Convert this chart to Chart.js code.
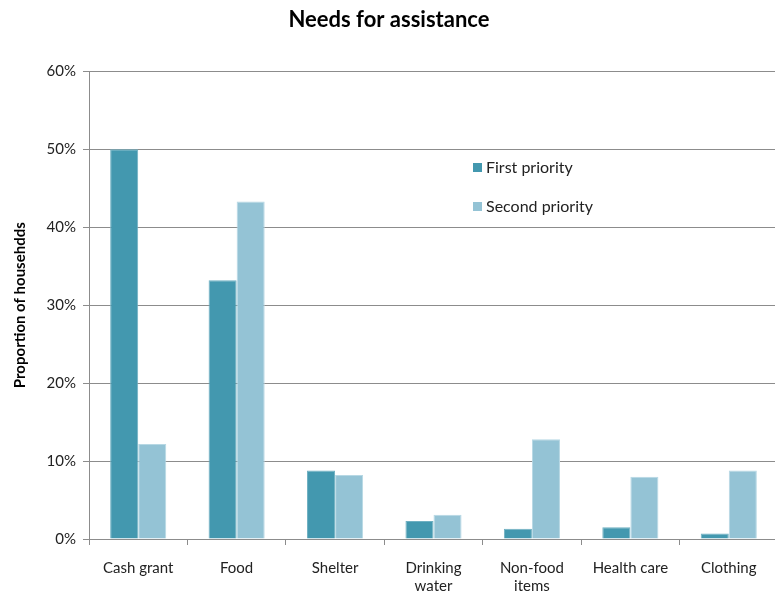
<!DOCTYPE html>
<html>
<head>
<meta charset="utf-8">
<script src="https://cdn.jsdelivr.net/npm/chart.js@4/dist/chart.umd.min.js"></script>
<style>
  html, body { margin: 0; padding: 0; background: #fff; overflow: hidden; }
  #wrap { width: 785px; height: 594px; }
</style>
</head>
<body>
<div id="wrap"><canvas id="needsChart" width="785" height="594"></canvas></div>
<script>
const categories = ["Cash grant", "Food", "Shelter", ["Drinking", "water"], ["Non-food", "items"], "Health care", "Clothing"];
const firstPriority = [50.0, 33.2, 8.8, 2.3, 1.3, 1.5, 0.7];
const secondPriority = [12.2, 43.3, 8.2, 3.1, 12.8, 8.0, 8.8];
const yTicks = [0, 10, 20, 30, 40, 50, 60];

const FONT = "Lato, 'Open Sans', sans-serif";
const gridGray = "#8c8c8c";

// legend drawn inside the plot area, like the original
const innerLegend = {
  id: "innerLegend",
  afterDraw(chart) {
    const c = chart.ctx;
    c.save();
    c.font = "16px " + FONT;
    c.textBaseline = "middle";
    chart.data.datasets.forEach(function (ds, i) {
      const y = 168 + i * 39;
      c.fillStyle = ds.backgroundColor;
      c.fillRect(473, y - 5, 9, 9);
      c.fillStyle = "#222";
      c.fillText(ds.label, 486, y);
    });
    c.restore();
  },
};

const ctx = document.getElementById("needsChart").getContext("2d");
new Chart(ctx, {
  type: "bar",
  data: {
    labels: categories,
    datasets: [
      {
        label: "First priority",
        data: firstPriority,
        backgroundColor: "#4398af",
        borderColor: "#6fb0c2",
        borderWidth: 1,
      },
      {
        label: "Second priority",
        data: secondPriority,
        backgroundColor: "#94c3d5",
        borderColor: "#b7d8e4",
        borderWidth: 1,
      },
    ],
  },
  options: {
    responsive: false,
    animation: false,
    layout: { padding: { left: 0, right: 7, top: 0, bottom: 0 } },
    datasets: {
      bar: { categoryPercentage: 0.57, barPercentage: 1.0 },
    },
    plugins: {
      legend: { display: false },
      tooltip: { enabled: false },
      title: {
        display: true,
        text: "Needs for assistance",
        color: "#000",
        font: { family: FONT, size: 22, weight: "bold" },
        padding: { top: 7, bottom: 38 },
      },
    },
    scales: {
      x: {
        grid: {
          display: true,
          drawOnChartArea: false,
          drawTicks: true,
          tickLength: 6,
          color: gridGray,
          offset: true,
        },
        border: { display: true, color: gridGray, width: 1 },
        ticks: {
          color: "#222",
          font: { family: FONT, size: 15, lineHeight: 1.2 },
          padding: 14,
          maxRotation: 0,
          autoSkip: false,
        },
        afterFit(scale) { scale.height = 55; },
      },
      y: {
        min: 0,
        max: 60,
        afterBuildTicks(scale) { scale.ticks = yTicks.map(function (v) { return { value: v }; }); },
        grid: { color: gridGray, lineWidth: 1, tickLength: 6 },
        border: { display: true, color: gridGray, width: 1 },
        ticks: {
          color: "#222",
          font: { family: FONT, size: 15 },
          padding: 7,
          callback: function (v) { return v + "%"; },
        },
        title: {
          display: true,
          text: "Proportion of househdds",
          color: "#000",
          font: { family: FONT, size: 15, weight: "bold" },
          padding: { top: 11, bottom: 0 },
        },
        afterFit(scale) { scale.width = 89; },
      },
    },
  },
  plugins: [innerLegend],
});
</script>
</body>
</html>
